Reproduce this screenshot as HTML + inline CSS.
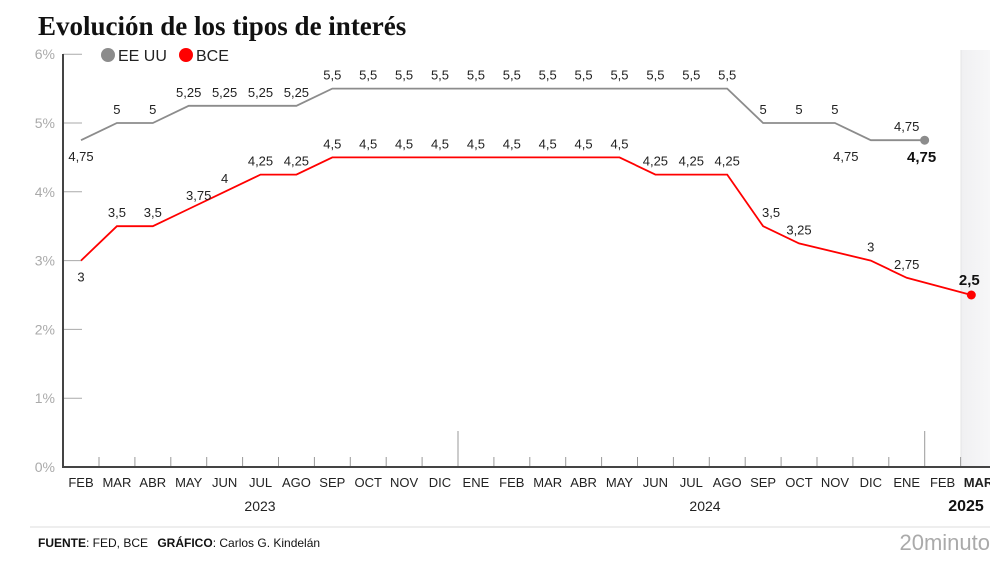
<!DOCTYPE html>
<html><head><meta charset="utf-8"><style>
body{margin:0;background:#fff;width:990px;height:556px;overflow:hidden;font-family:"Liberation Sans",sans-serif}
</style></head><body>
<svg width="990" height="556" id="c">
<defs><linearGradient id="sh" x1="0" x2="1"><stop offset="0" stop-color="#f0f0f2"/><stop offset="1" stop-color="#f7f7f8"/></linearGradient></defs>
<text x="38" y="35" font-family="Liberation Serif,serif" font-weight="bold" font-size="27" fill="#111">Evolución de los tipos de interés</text>
<rect x="961" y="50" width="29" height="418" fill="url(#sh)"/>
<line x1="961" y1="50" x2="961" y2="468" stroke="#e4e4e6"/>
<g id="g"></g>
<circle cx="108" cy="55" r="7" fill="#8c8c8c"/>
<text x="118" y="61" font-size="16" fill="#222">EE UU</text>
<circle cx="186" cy="55" r="7" fill="#f00"/>
<text x="196" y="61" font-size="16" fill="#222">BCE</text>
<text x="260" y="511" font-size="14" text-anchor="middle" fill="#222">2023</text>
<text x="705" y="511" font-size="14" text-anchor="middle" fill="#222">2024</text>
<text x="966" y="511" font-size="16" font-weight="bold" text-anchor="middle" fill="#111">2025</text>
<line x1="30" y1="527" x2="990" y2="527" stroke="#ddd"/>
<text x="38" y="547" font-size="12" fill="#111"><tspan font-weight="bold">FUENTE</tspan>: FED, BCE   <tspan font-weight="bold" dx="6">GRÁFICO</tspan>: Carlos G. Kindelán</text>
<text x="990" y="550" font-size="22" fill="#aaa" text-anchor="end">20minuto</text>
</svg>
<script>
const months=["FEB","MAR","ABR","MAY","JUN","JUL","AGO","SEP","OCT","NOV","DIC","ENE","FEB","MAR","ABR","MAY","JUN","JUL","AGO","SEP","OCT","NOV","DIC","ENE","FEB","MAR"];
const yTicks=[0,1,2,3,4,5,6];
const usX=[0,1,2,3,4,5,6,7,8,9,10,11,12,13,14,15,16,17,18,19,20,21,22,23,23.5];
const usY=[4.75,5,5,5.25,5.25,5.25,5.25,5.5,5.5,5.5,5.5,5.5,5.5,5.5,5.5,5.5,5.5,5.5,5.5,5,5,5,4.75,4.75,4.75];
const ecbX=[0,1,2,3,4,5,6,7,8,9,10,11,12,13,14,15,16,17,18,19,20,22,23,24.8];
const ecbY=[3,3.5,3.5,3.75,4,4.25,4.25,4.5,4.5,4.5,4.5,4.5,4.5,4.5,4.5,4.5,4.25,4.25,4.25,3.5,3.25,3,2.75,2.5];
const NS="http://www.w3.org/2000/svg",g=document.getElementById('g');
const xs=i=>81+35.9*i, ys=v=>467-v*68.8;
function mk(t,a,txt){const e=document.createElementNS(NS,t);for(const k in a)e.setAttribute(k,a[k]);if(txt!==undefined)e.textContent=txt;g.appendChild(e);return e;}
const fmt=v=>String(v).replace('.',',');
yTicks.forEach(v=>{
 const l=mk('line',{x1:63,x2:82,y1:ys(v),y2:ys(v),stroke:'#aaa'});
 
 
 const t=mk('text',{x:55,y:ys(v)+5,'font-size':14,fill:'#aaa','text-anchor':'end'},v+'%');
 
 
});
months.forEach((m,i)=>{
 const t=mk('text',{x:xs(i),y:487,'font-size':13,fill:'#222','text-anchor':'middle','font-weight':i==25?'bold':'normal'},m);
 
 
 if(i<25){const l=mk('line',{x1:xs(i)+18,x2:xs(i)+18,y1:(i==10||i==23)?431:457,y2:467,stroke:'#999'});
 
 }
});
const ax=mk('path',{d:'M63 54V467H990',stroke:'#444','stroke-width':2,fill:'none'});


function series(X,Y,col,name,below,shift){
 const p=mk('polyline',{points:X.map((x,i)=>xs(x)+','+ys(Y[i])).join(' '),fill:'none',stroke:col,'stroke-width':1.8});
 
 
 const n=X.length-1;
 const d=mk('circle',{cx:xs(X[n]),cy:ys(Y[n]),r:4.5,fill:col});
 
 
 X.forEach((x,i)=>{
  const last=i==n, b=below.includes(i);
  if(last&&name=='us'){const t=mk('text',{x:xs(x)-3,y:ys(Y[i])+22,'font-size':15,'font-weight':'bold','text-anchor':'middle',fill:'#111'},fmt(Y[i]));return;}
  if(last){const t=mk('text',{x:xs(x)-2,y:ys(Y[i])-10,'font-size':15,'font-weight':'bold','text-anchor':'middle',fill:'#111'},fmt(Y[i]));return;}
  const t=mk('text',{x:xs(x)+(shift[i]||0),y:ys(Y[i])+(b?21:-9),'font-size':13,'text-anchor':'middle',fill:'#222'},fmt(Y[i]));
  
  
 });
}
series(usX,usY,'#8c8c8c','us',[0,22],{22:-25});
series(ecbX,ecbY,'#f00','ecb',[0],{3:10,19:8});
</script>
</body></html>
